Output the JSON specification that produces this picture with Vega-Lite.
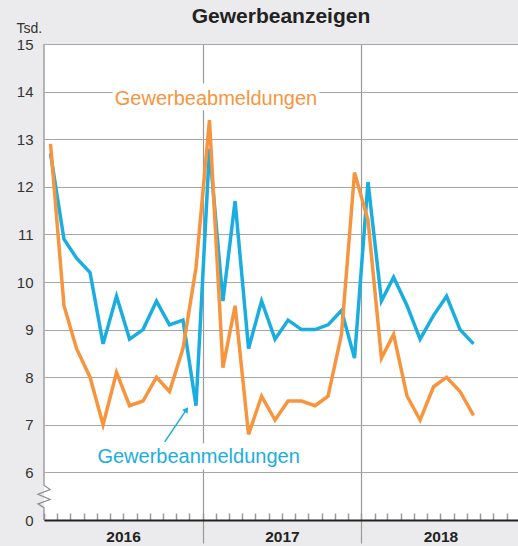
{
  "$schema": "https://vega.github.io/schema/vega-lite/v6.json",
  "width": 474,
  "height": 476,
  "autosize": {"type": "none"},
  "padding": {"left": 44, "top": 44, "right": 0, "bottom": 26},
  "background": "#ebebed",
  "config": {"view": {"fill": "white", "stroke": null}, "font": "Liberation Sans"},
  "title": {"text": "Gewerbeanzeigen", "fontSize": 21, "fontWeight": "bold", "color": "#222222", "frame": "group", "anchor": "middle", "baseline": "alphabetic", "offset": -23},
  "datasets": {
    "anm": [
      {"date": "2016-01-16T00:00", "v": 12.7}, {"date": "2016-02-16T00:00", "v": 10.9}, {"date": "2016-03-16T00:00", "v": 10.5},
      {"date": "2016-04-16T00:00", "v": 10.2}, {"date": "2016-05-16T00:00", "v": 8.7}, {"date": "2016-06-16T00:00", "v": 9.7},
      {"date": "2016-07-16T00:00", "v": 8.8}, {"date": "2016-08-16T00:00", "v": 9.0}, {"date": "2016-09-16T00:00", "v": 9.6},
      {"date": "2016-10-16T00:00", "v": 9.1}, {"date": "2016-11-16T00:00", "v": 9.2}, {"date": "2016-12-16T00:00", "v": 7.4},
      {"date": "2017-01-16T00:00", "v": 12.8}, {"date": "2017-02-16T00:00", "v": 9.6}, {"date": "2017-03-16T00:00", "v": 11.7},
      {"date": "2017-04-16T00:00", "v": 8.6}, {"date": "2017-05-16T00:00", "v": 9.6}, {"date": "2017-06-16T00:00", "v": 8.8},
      {"date": "2017-07-16T00:00", "v": 9.2}, {"date": "2017-08-16T00:00", "v": 9.0}, {"date": "2017-09-16T00:00", "v": 9.0},
      {"date": "2017-10-16T00:00", "v": 9.1}, {"date": "2017-11-16T00:00", "v": 9.4}, {"date": "2017-12-16T00:00", "v": 8.4},
      {"date": "2018-01-16T00:00", "v": 12.1}, {"date": "2018-02-16T00:00", "v": 9.6}, {"date": "2018-03-16T00:00", "v": 10.1},
      {"date": "2018-04-16T00:00", "v": 9.5}, {"date": "2018-05-16T00:00", "v": 8.8}, {"date": "2018-06-16T00:00", "v": 9.3},
      {"date": "2018-07-16T00:00", "v": 9.7}, {"date": "2018-08-16T00:00", "v": 9.0}, {"date": "2018-09-16T00:00", "v": 8.7}
    ],
    "abm": [
      {"date": "2016-01-16T00:00", "v": 12.9}, {"date": "2016-02-16T00:00", "v": 9.5}, {"date": "2016-03-16T00:00", "v": 8.6},
      {"date": "2016-04-16T00:00", "v": 8.0}, {"date": "2016-05-16T00:00", "v": 7.0}, {"date": "2016-06-16T00:00", "v": 8.1},
      {"date": "2016-07-16T00:00", "v": 7.4}, {"date": "2016-08-16T00:00", "v": 7.5}, {"date": "2016-09-16T00:00", "v": 8.0},
      {"date": "2016-10-16T00:00", "v": 7.7}, {"date": "2016-11-16T00:00", "v": 8.6}, {"date": "2016-12-16T00:00", "v": 10.3},
      {"date": "2017-01-16T00:00", "v": 13.4}, {"date": "2017-02-16T00:00", "v": 8.2}, {"date": "2017-03-16T00:00", "v": 9.5},
      {"date": "2017-04-16T00:00", "v": 6.8}, {"date": "2017-05-16T00:00", "v": 7.6}, {"date": "2017-06-16T00:00", "v": 7.1},
      {"date": "2017-07-16T00:00", "v": 7.5}, {"date": "2017-08-16T00:00", "v": 7.5}, {"date": "2017-09-16T00:00", "v": 7.4},
      {"date": "2017-10-16T00:00", "v": 7.6}, {"date": "2017-11-16T00:00", "v": 8.9}, {"date": "2017-12-16T00:00", "v": 12.3},
      {"date": "2018-01-16T00:00", "v": 11.3}, {"date": "2018-02-16T00:00", "v": 8.4}, {"date": "2018-03-16T00:00", "v": 8.9},
      {"date": "2018-04-16T00:00", "v": 7.6}, {"date": "2018-05-16T00:00", "v": 7.1}, {"date": "2018-06-16T00:00", "v": 7.8},
      {"date": "2018-07-16T00:00", "v": 8.0}, {"date": "2018-08-16T00:00", "v": 7.7}, {"date": "2018-09-16T00:00", "v": 7.2}
    ],
    "boxes": [
      {"date": "2016-06-07T00:00", "date2": "2017-09-26T00:00", "v": 14.17, "v2": 13.61},
      {"date": "2016-04-27T00:00", "date2": "2017-08-17T00:00", "v": 6.61, "v2": 6.06}
    ],
    "frame": [
      {"date": "2016-01-01T00:00", "v": 15, "ord": 1},
      {"date": "2016-01-01T00:00", "v": 5.73, "ord": 2},
      {"date": "2016-01-15T00:00", "v": 5.64, "ord": 3},
      {"date": "2015-12-18T00:00", "v": 5.54, "ord": 4},
      {"date": "2016-01-15T00:00", "v": 5.43, "ord": 5},
      {"date": "2015-12-18T00:00", "v": 5.34, "ord": 6},
      {"date": "2016-01-01T00:00", "v": 5.26, "ord": 7},
      {"date": "2016-01-01T00:00", "v": 5, "ord": 8}
    ],
    "arrow": [
      {"date": "2016-10-05T00:00", "v": 6.64, "date2": "2016-11-24T00:00", "v2": 7.32}
    ],
    "labels": [
      {"date": "2017-01-31T00:00", "v": 13.71, "series": "Gewerbeabmeldungen"},
      {"date": "2016-12-22T00:00", "v": 6.2, "series": "Gewerbeanmeldungen"}
    ]
  },
  "layer": [
    {
      "data": {"name": "boxes"},
      "mark": {"type": "rect", "fill": "white"},
      "encoding": {
        "x": {"field": "date", "type": "temporal",
          "scale": {"domain": [{"year": 2016, "month": 1, "date": 1}, {"year": 2018, "month": 12, "date": 27, "hours": 10}]},
          "axis": {"orient": "bottom", "values": [{"year": 2017, "month": 1, "date": 1}, {"year": 2018, "month": 1, "date": 1}], "grid": true, "gridColor": "#999999", "gridWidth": 1.2, "ticks": true, "tickSize": 23, "tickColor": "#999999", "tickWidth": 1.2, "labels": false, "domain": false, "title": null}},
        "x2": {"field": "date2"},
        "y": {"field": "v", "type": "quantitative", "scale": {"domain": [5, 15], "nice": false, "zero": false},
          "axis": {"values": [5, 6, 7, 8, 9, 10, 11, 12, 13, 14, 15], "grid": true, "gridColor": "#a6a6a6", "gridWidth": 1.2, "domain": false, "ticks": false,
            "labelExpr": "datum.value == 5 ? '0' : datum.label", "labelFontSize": 15, "labelColor": "#333333", "labelPadding": 11,
            "title": "Tsd.", "titleAngle": 0, "titleAlign": "left", "titleBaseline": "alphabetic", "titleX": -28, "titleY": -12, "titleFontSize": 14, "titleFontWeight": "normal", "titleColor": "#333333"}},
        "y2": {"field": "v2"}
      }
    },
    {
      "data": {"name": "frame"},
      "mark": {"type": "line", "color": "#8c8c8c", "strokeWidth": 1.2, "clip": false},
      "encoding": {
        "x": {"field": "date", "type": "temporal", "axis": null},
        "y": {"field": "v", "type": "quantitative"},
        "order": {"field": "ord", "type": "quantitative"}
      }
    },
    {
      "data": {"name": "anm"},
      "mark": {"type": "line", "color": "#1aaee0", "strokeWidth": 3.5, "strokeJoin": "miter"},
      "encoding": {
        "x": {"field": "date", "type": "temporal",
          "axis": {"orient": "bottom", "tickCount": {"interval": "month", "step": 1}, "labels": false, "ticks": true, "tickSize": -7, "tickColor": "#9a9a9a", "tickWidth": 1.5, "domain": true, "domainColor": "#222222", "domainWidth": 2, "grid": false, "title": null}},
        "y": {"field": "v", "type": "quantitative"}
      }
    },
    {
      "data": {"name": "abm"},
      "mark": {"type": "line", "color": "#f7953f", "strokeWidth": 3.5, "strokeJoin": "miter"},
      "encoding": {
        "x": {"field": "date", "type": "temporal", "axis": null},
        "y": {"field": "v", "type": "quantitative"}
      }
    },
    {
      "data": {"name": "arrow"},
      "mark": {"type": "rule", "color": "#1aaee0", "strokeWidth": 1.5},
      "encoding": {
        "x": {"field": "date", "type": "temporal", "axis": null},
        "x2": {"field": "date2"},
        "y": {"field": "v", "type": "quantitative"},
        "y2": {"field": "v2"}
      }
    },
    {
      "data": {"name": "arrow"},
      "mark": {"type": "point", "shape": "triangle-up", "angle": 34, "filled": true, "size": 45, "color": "#1aaee0", "opacity": 1},
      "encoding": {
        "x": {"field": "date2", "type": "temporal", "axis": null},
        "y": {"field": "v2", "type": "quantitative"}
      }
    },
    {
      "data": {"name": "labels"},
      "mark": {"type": "text", "fontSize": 20, "align": "center", "baseline": "alphabetic"},
      "encoding": {
        "x": {"field": "date", "type": "temporal",
          "axis": {"orient": "bottom", "values": [{"year": 2016, "month": 1, "date": 1}, {"year": 2017, "month": 1, "date": 1}, {"year": 2018, "month": 1, "date": 1}], "format": "%Y", "labelOffset": 79, "ticks": false, "domain": false, "grid": false, "labelFontSize": 15.5, "labelFontWeight": "bold", "labelColor": "#222222", "labelBaseline": "alphabetic", "labelPadding": 21.5, "labelOverlap": false, "labelFlush": false, "labelBound": false, "title": null}},
        "y": {"field": "v", "type": "quantitative"},
        "text": {"field": "series"},
        "color": {"field": "series", "type": "nominal", "scale": {"domain": ["Gewerbeabmeldungen", "Gewerbeanmeldungen"], "range": ["#f7953f", "#1aaee0"]}, "legend": null}
      }
    }
  ],
  "resolve": {"axis": {"x": "independent"}}
}
